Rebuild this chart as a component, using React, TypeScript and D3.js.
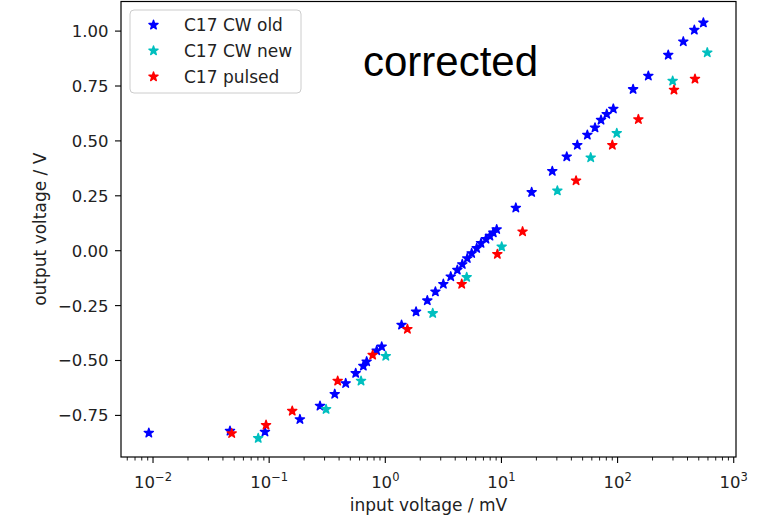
import React from "react";
import * as d3 from "d3";

const oldX = [0.0092, 0.046, 0.092, 0.184, 0.274, 0.367, 0.456, 0.556, 0.647, 0.691, 0.843, 0.931, 1.38, 1.84, 2.30, 2.70, 3.16, 3.66, 4.17, 4.60, 5.08, 5.54, 6.12, 6.67, 7.36, 7.96, 8.51, 9.10, 13.3, 18.2, 27.4, 36.5, 45.0, 54.9, 63.9, 72.0, 80.6, 91.9, 136, 184, 273, 368, 458, 548];
const oldY = [-0.830, -0.821, -0.825, -0.768, -0.707, -0.653, -0.604, -0.558, -0.525, -0.505, -0.455, -0.437, -0.338, -0.278, -0.227, -0.187, -0.152, -0.118, -0.088, -0.062, -0.035, -0.012, 0.011, 0.034, 0.053, 0.067, 0.082, 0.097, 0.195, 0.266, 0.362, 0.428, 0.481, 0.527, 0.560, 0.595, 0.622, 0.646, 0.735, 0.796, 0.891, 0.952, 1.005, 1.038];
const newX = [0.0805, 0.309, 0.618, 1.01, 2.56, 5.02, 10.05, 30.3, 58.7, 98.4, 298, 592];
const newY = [-0.854, -0.722, -0.593, -0.480, -0.285, -0.121, 0.018, 0.273, 0.424, 0.535, 0.773, 0.902];
const pulsedX = [0.0476, 0.094, 0.158, 0.389, 0.778, 1.55, 4.55, 9.22, 15.2, 43.9, 90.1, 151, 306, 464];
const pulsedY = [-0.832, -0.794, -0.730, -0.593, -0.475, -0.357, -0.152, -0.016, 0.087, 0.319, 0.481, 0.598, 0.732, 0.782];

const seriesNames = ["C17 CW old", "C17 CW new", "C17 pulsed"];
const seriesColors = ["#0000ff", "#00bfbf", "#ff0000"];
const yTicks = [-0.75, -0.5, -0.25, 0, 0.25, 0.5, 0.75, 1.0];
const xTickExps = [-2, -1, 0, 1, 2, 3];

const W = 757, H = 521;
const L = 121, R = 736, T = 1.5, B = 457;
const FONT = "DejaVu Sans, sans-serif";

function starPath(r: number) {
  const ri = r * 0.381966;
  const pts: string[] = [];
  for (let i = 0; i < 10; i++) {
    const a = (Math.PI / 5) * i - Math.PI / 2;
    const rr = i % 2 === 0 ? r : ri;
    pts.push(`${(rr * Math.cos(a)).toFixed(3)},${(rr * Math.sin(a)).toFixed(3)}`);
  }
  return "M" + pts.join("L") + "Z";
}

export default function App() {
  const x = d3.scaleLog().domain([Math.pow(10, -2.2757), Math.pow(10, 3.0196)]).range([L, R]);
  const y = d3.scaleLinear().domain([-0.9394, 1.1348]).range([B, T]);
  const star = starPath(4.8);
  const series = [
    { xs: oldX, ys: oldY },
    { xs: newX, ys: newY },
    { xs: pulsedX, ys: pulsedY },
  ];
  const minor: number[] = [];
  for (let e = -3; e <= 3; e++) {
    for (let k = 2; k <= 9; k++) {
      const v = k * Math.pow(10, e);
      if (v > x.domain()[0] && v < x.domain()[1]) minor.push(v);
    }
  }
  const fmt = (v: number) => v.toFixed(2).replace("-", "\u2212");
  const legendRows = [25, 50.7, 76.7];
  return (
    <svg width={W} height={H} style={{ position: "absolute", left: 0, top: 0, background: "#fff" }}>
      <rect x={0} y={0} width={W} height={H} fill="#fff" />
      {series.map((s, si) => (
        <g key={si} fill={seriesColors[si]} stroke={seriesColors[si]} strokeWidth={1.4} strokeLinejoin="round">
          {s.xs.map((xv, i) => (
            <path key={i} d={star} transform={`translate(${x(xv)},${y(s.ys[i])})`} />
          ))}
        </g>
      ))}
      <rect x={L} y={T} width={R - L} height={B - T} fill="none" stroke="#000" strokeWidth={1.2} />
      {yTicks.map((t) => (
        <g key={t}>
          <line x1={L - 6} x2={L} y1={y(t)} y2={y(t)} stroke="#000" strokeWidth={1.1} />
          <text x={L - 12.5} y={y(t)} dy="0.36em" textAnchor="end" fontFamily={FONT} fontSize={16.5} fill="#222">
            {fmt(t)}
          </text>
        </g>
      ))}
      {minor.map((v, i) => (
        <line key={i} x1={x(v)} x2={x(v)} y1={B} y2={B + 3.5} stroke="#000" strokeWidth={0.9} />
      ))}
      {xTickExps.map((e) => {
        const px = x(Math.pow(10, e));
        return (
          <g key={e}>
            <line x1={px} x2={px} y1={B} y2={B + 6} stroke="#000" strokeWidth={1.1} />
            <text x={px} y={488} textAnchor="middle" fontFamily={FONT} fontSize={16.5} fill="#222">
              10
              <tspan dy={-7} fontSize={11.5}>{String(e).replace("-", "\u2212")}</tspan>
            </text>
          </g>
        );
      })}
      <text x={(L + R) / 2} y={511} textAnchor="middle" fontFamily={FONT} fontSize={17} fill="#222">
        input voltage / mV
      </text>
      <text transform={`translate(46,${(T + B) / 2}) rotate(-90)`} textAnchor="middle" fontFamily={FONT} fontSize={17} fill="#222">
        output voltage / V
      </text>
      <rect x={130} y={10} width={171} height={83} rx={4} fill="#fff" fillOpacity={0.8} stroke="#cccccc" strokeWidth={1} />
      {seriesNames.map((n, i) => (
        <g key={n}>
          <path d={star} transform={`translate(153.5,${legendRows[i]})`} fill={seriesColors[i]} stroke={seriesColors[i]} strokeWidth={1.4} strokeLinejoin="round" />
          <text x={184} y={legendRows[i]} dy="0.36em" fontFamily={FONT} fontSize={17} fill="#222">
            {n}
          </text>
        </g>
      ))}
      <text x={363} y={76} fontFamily="Liberation Sans, Arial, sans-serif" fontSize={42} fill="#000">
        corrected
      </text>
    </svg>
  );
}
